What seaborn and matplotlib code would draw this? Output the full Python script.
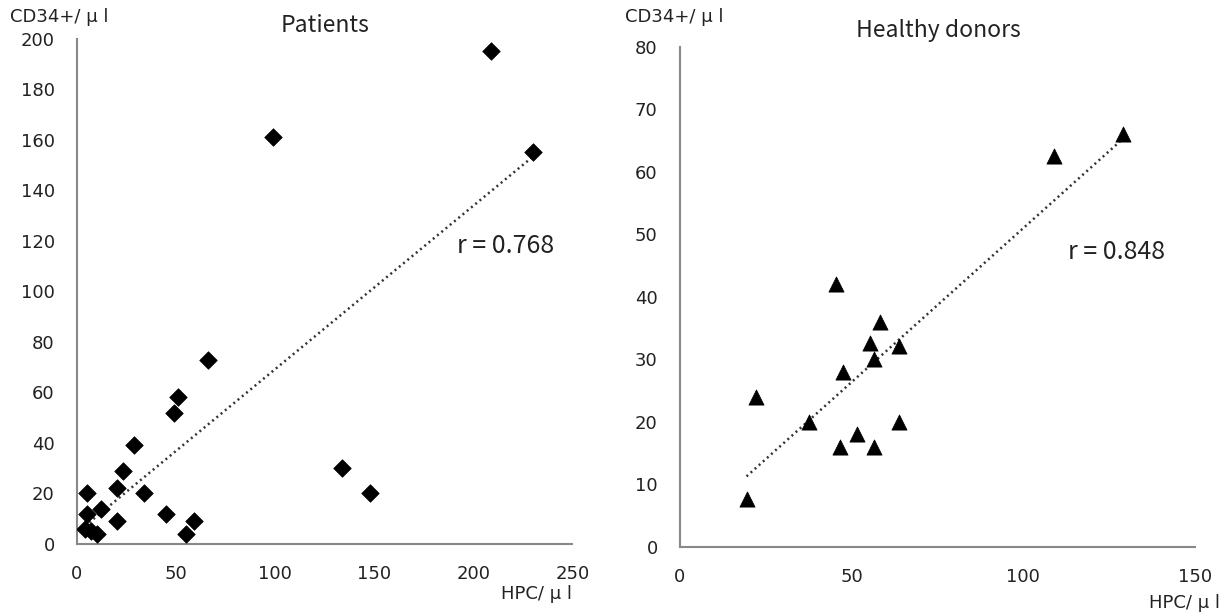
import matplotlib
matplotlib.use("Agg")
import matplotlib.pyplot as plt
import seaborn as sns
import numpy as np
import pandas as pd

# patients: HPC/ul vs CD34+/ul
pat_hpc = [209, 230, 99, 134, 148, 66, 51, 49, 29, 23, 20, 34, 5, 12, 5, 20, 45, 59, 55, 4, 7, 10]
pat_cd34 = [195, 155, 161, 30, 20, 73, 58, 52, 39, 29, 22, 20, 20, 14, 12, 9, 12, 9, 4, 6, 5, 4]

# healthy donors
hd_hpc = [129, 109, 45.5, 58.4, 55.5, 63.7, 56.6, 47.5, 22.3, 37.5, 63.7, 51.5, 46.5, 56.6, 19.4]
hd_cd34 = [66, 62.6, 42, 36, 32.6, 32.2, 30, 28, 24, 20, 20, 18, 16, 16, 7.6]

pat = pd.DataFrame({"hpc": pat_hpc, "cd34": pat_cd34})
hd = pd.DataFrame({"hpc": hd_hpc, "cd34": hd_cd34})

sns.set_style("white")
plt.rcParams["font.family"] = ["Noto Sans CJK JP", "DejaVu Sans"]

fig = plt.figure(figsize=(12.26, 6.16), dpi=100)
ax1 = fig.add_axes([0.0628, 0.117, 0.404, 0.82])
ax2 = fig.add_axes([0.5546, 0.112, 0.42, 0.812])

line_kws = dict(color="#333333", lw=1.8, ls=(0, (0.8, 1.4)))

sns.regplot(data=pat, x="hpc", y="cd34", ax=ax1, scatter=False, ci=None, line_kws=line_kws)
sns.scatterplot(data=pat, x="hpc", y="cd34", ax=ax1, marker="D", s=80, color="black",
                edgecolor="black", linewidth=0.5, zorder=3)

sns.regplot(data=hd, x="hpc", y="cd34", ax=ax2, scatter=False, ci=None, line_kws=line_kws)
sns.scatterplot(data=hd, x="hpc", y="cd34", ax=ax2, marker="^", s=120, color="black",
                edgecolor="black", linewidth=0.5, zorder=3)

ax1.set_xlim(0, 250)
ax1.set_ylim(0, 200)
ax1.set_xticks(np.arange(0, 251, 50))
ax1.set_yticks(np.arange(0, 201, 20))
ax2.set_xlim(0, 150)
ax2.set_ylim(0, 80)
ax2.set_xticks(np.arange(0, 151, 50))
ax2.set_yticks(np.arange(0, 81, 10))

for ax in (ax1, ax2):
    sns.despine(ax=ax)
    ax.spines["left"].set_color("#888888")
    ax.spines["bottom"].set_color("#888888")
    ax.spines["left"].set_linewidth(1.5)
    ax.spines["bottom"].set_linewidth(1.5)
    ax.tick_params(direction="in", length=6, width=1.2, color="#888888",
                   labelsize=13, labelcolor="#222222", labelfontfamily="DejaVu Sans")
    ax.tick_params(axis="y", pad=16)
    ax.tick_params(axis="x", pad=15)
    ax.set_xlabel("")
    ax.set_ylabel("")

# panel titles
fig.text(325 / 1226, 1 - 25 / 616, "Patients", fontsize=16.5, ha="center", va="center", color="#222222")
fig.text(938 / 1226, 1 - 30 / 616, "Healthy donors", fontsize=16.5, ha="center", va="center", color="#222222")

ax1.text(192, 118, "r = 0.768", fontsize=18, va="center", color="#222222")
ax2.text(113, 47.2, "r = 0.848", fontsize=18, va="center", color="#222222")

lab_kw = dict(fontsize=13, va="center", color="#222222", family=["DejaVu Sans"])
fig.text(10 / 1226, 1 - 17 / 616, "CD34+/ μ l", ha="left", **lab_kw)
fig.text(625 / 1226, 1 - 17 / 616, "CD34+/ μ l", ha="left", **lab_kw)
fig.text(572 / 1226, 1 - 594 / 616, "HPC/ μ l", ha="right", **lab_kw)
fig.text(1220 / 1226, 1 - 603 / 616, "HPC/ μ l", ha="right", **lab_kw)

fig.savefig("out.png", dpi=100)
